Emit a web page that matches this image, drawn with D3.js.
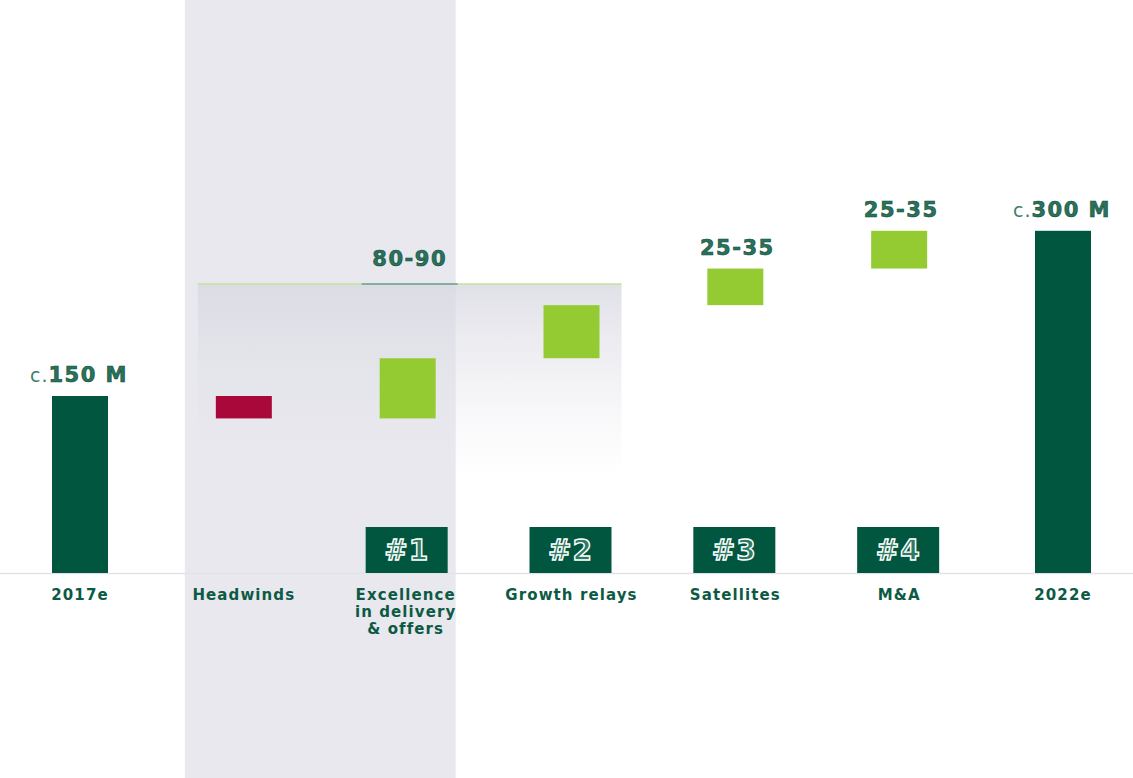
<!DOCTYPE html>
<html><head><meta charset="utf-8">
<script src="https://cdn.jsdelivr.net/npm/d3@7"></script>
<style>
html,body{margin:0;padding:0;background:#fff;}
svg{display:block;}
text{font-family:"DejaVu Sans",sans-serif;}
</style></head>
<body><svg id="c" width="1133" height="778"></svg>
<script>
const categories = ["2017e","Headwinds","Excellence\nin delivery\n& offers","Growth relays","Satellites","M&A","2022e"];
const kinds = ["total","delta","delta","delta","delta","delta","total"];
const values = [150, -19, 51, 45, 31, 32, 290];
const topLabels = [["c.","150 M"], null, ["","80-90"], null, ["","25-35"], ["","25-35"], ["c.","300 M"]];
const boxLabels = [null, null, "#1", "#2", "#3", "#4", null];
const bracketLevel = 245;

const W = 1133, H = 778;
const svg = d3.select("#c");
const dark = "#00563f", red = "#a8093a", lime = "#95cb32", txt = "#0d5a44";

const x = d3.scalePoint().domain(d3.range(categories.length)).range([80, 1063]);
const y = d3.scaleLinear().domain([0, 150]).range([573, 396]);
const barW = 56;

let run = 0;
const bars = values.map((v, i) => {
  let y0, y1;
  if (kinds[i] === "total") { y0 = 0; y1 = v; run = v; }
  else { y0 = run; y1 = run + v; run = y1; }
  return {i, v, y0, y1, kind: kinds[i]};
});

svg.append("rect").attr("x", x(1) - 59).attr("y", 0)
  .attr("width", (x(2) + 48) - (x(1) - 59)).attr("height", H)
  .attr("fill", "#e8e8ee");

const defs = svg.append("defs");
const g = defs.append("linearGradient").attr("id", "fade").attr("x1", 0).attr("x2", 0).attr("y1", 0).attr("y2", 1);
g.append("stop").attr("offset", "0%").attr("stop-color", "#d8d8e2").attr("stop-opacity", 0.8);
g.append("stop").attr("offset", "100%").attr("stop-color", "#e8e8ee").attr("stop-opacity", 0);
const bx0 = x(1) - 46, bx1 = x(3) + 50;
svg.append("rect").attr("x", bx0).attr("y", y(bracketLevel))
  .attr("width", bx1 - bx0).attr("height", 192).attr("fill", "url(#fade)");
svg.append("line").attr("x1", bx0).attr("x2", bx1).attr("y1", y(bracketLevel)).attr("y2", y(bracketLevel))
  .attr("stroke", "#c4e39a").attr("stroke-width", 1.5);
svg.append("line").attr("x1", x(2) - 46).attr("x2", x(2) + 50).attr("y1", y(bracketLevel)).attr("y2", y(bracketLevel))
  .attr("stroke", "#6f9c9c").attr("stroke-width", 1.5);

svg.append("line").attr("x1", 0).attr("x2", W).attr("y1", y(0) + 0.5).attr("y2", y(0) + 0.5)
  .attr("stroke", "#e2e2ea").attr("stroke-width", 1.5);

svg.selectAll("rect.bar").data(bars).enter().append("rect").attr("class", "bar")
  .attr("x", d => x(d.i) - barW / 2)
  .attr("width", barW)
  .attr("y", d => y(Math.max(d.y0, d.y1)))
  .attr("height", d => Math.abs(y(d.y0) - y(d.y1)))
  .attr("fill", d => d.kind === "total" ? dark : (d.v < 0 ? red : lime));

const boxW = 82, boxH = 46;
const bx = svg.selectAll("g.box").data(boxLabels.map((t, i) => ({t, i})).filter(d => d.t)).enter()
  .append("g").attr("class", "box");
bx.append("rect").attr("x", d => x(d.i) - boxW / 2 - 1).attr("y", y(0) - boxH)
  .attr("width", boxW).attr("height", boxH).attr("fill", dark);
bx.append("text").attr("x", d => x(d.i) - 1).attr("y", y(0) - boxH / 2 + 10)
  .attr("text-anchor", "middle").attr("font-size", 28).attr("font-weight", "bold")
  .attr("letter-spacing", 1)
  .attr("fill", "#2e7a62").attr("stroke", "#ffffff").attr("stroke-width", 1.4)
  .text(d => d.t);

const tl = svg.selectAll("text.top").data(bars.filter(d => topLabels[d.i])).enter()
  .append("text").attr("class", "top")
  .attr("x", d => x(d.i) + (topLabels[d.i][0] ? -1 : 2))
  .attr("y", d => {
    const top = y(Math.max(d.y0, d.y1));
    if (d.i === 2) return y(bracketLevel) - 18;
    return top - 14;
  })
  .attr("text-anchor", "middle");
tl.append("tspan").attr("font-size", 19).attr("fill", "#3f7f6a").attr("letter-spacing", 1)
  .text(d => topLabels[d.i][0]);
tl.append("tspan").attr("font-size", 21).attr("font-weight", "bold").attr("letter-spacing", 1.5)
  .attr("fill", "#2b715b").attr("stroke", "#0b4d3a").attr("stroke-width", 0.6)
  .text(d => topLabels[d.i][1]);

const cl = svg.selectAll("text.cat").data(categories.map((c, i) => ({c, i}))).enter()
  .append("text").attr("class", "cat")
  .attr("x", d => x(d.i))
  .attr("y", 600)
  .attr("text-anchor", "middle").attr("font-size", 15).attr("font-weight", "bold")
  .attr("letter-spacing", 1.1).attr("fill", txt);
cl.selectAll("tspan").data(d => d.c.split("\n").map(s => ({s, i: d.i}))).enter()
  .append("tspan").attr("x", d => x(d.i) - (d.i === 2 ? 2 : 0)).attr("dy", (d, k) => k === 0 ? 0 : 17)
  .text(d => d.s);
</script></body></html>
